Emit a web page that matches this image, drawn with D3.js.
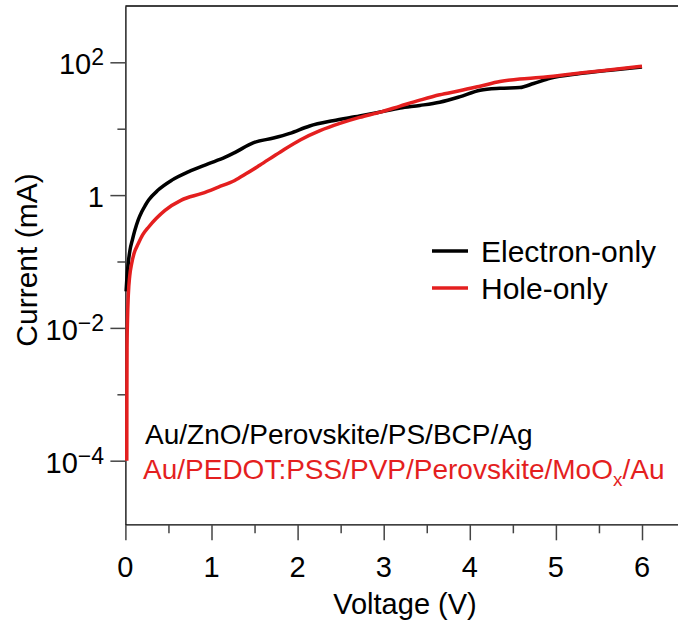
<!DOCTYPE html>
<html>
<head>
<meta charset="utf-8">
<script src="https://cdn.jsdelivr.net/npm/d3@7"></script>
<style>
  html, body { margin: 0; padding: 0; background: #fff; }
  svg { display: block; }
  text { font-family: "Liberation Sans", Arial, Helvetica, sans-serif; }
</style>
</head>
<body>
<svg id="chart" width="678" height="626"></svg>
<script>
// ---- Data ----
const electronV = [0.008, 0.015, 0.022, 0.035, 0.053, 0.08, 0.11, 0.15, 0.19, 0.23, 0.27, 0.38, 0.54, 0.73, 0.96, 1.16, 1.27, 1.49, 1.72, 1.91, 2.14, 2.41, 2.72, 2.96, 3.19, 3.42, 3.65, 3.88, 4.12, 4.35, 4.58, 4.74, 4.93, 5.28, 5.63, 6.0];
const electronI = [0.0355, 0.0501, 0.0661, 0.1, 0.148, 0.209, 0.295, 0.427, 0.562, 0.697, 0.841, 1.19, 1.68, 2.24, 2.95, 3.72, 4.37, 6.17, 7.24, 8.51, 11.0, 13.2, 15.5, 17.8, 20.4, 22.4, 25.1, 30.2, 38.0, 40.7, 41.7, 47.9, 57.5, 67.6, 75.9, 85.1];

const holeV = [0.016, 0.017, 0.019, 0.024, 0.034, 0.05, 0.073, 0.1, 0.15, 0.2, 0.27, 0.36, 0.46, 0.65, 0.89, 1.08, 1.27, 1.40, 1.56, 1.80, 2.03, 2.26, 2.49, 2.72, 2.96, 3.19, 3.42, 3.65, 3.88, 4.12, 4.35, 4.58, 4.81, 5.16, 5.51, 6.0];
const holeI = [0.0001, 0.001, 0.00501, 0.0126, 0.0316, 0.0603, 0.0933, 0.132, 0.186, 0.251, 0.331, 0.447, 0.589, 0.841, 1.06, 1.32, 1.66, 2.09, 2.82, 4.47, 6.76, 9.33, 12.0, 14.8, 17.8, 21.9, 26.9, 32.4, 37.2, 43.7, 51.3, 56.2, 58.9, 66.1, 74.1, 87.1];

const xMajorTicks = [0, 1, 2, 3, 4, 5, 6];
const xMinorTicks = [0.5, 1.5, 2.5, 3.5, 4.5, 5.5];
const yMajorTicks = [1e2, 1, 1e-2, 1e-4];
const yMajorLabels = [["10", "2"], ["1", ""], ["10", "\u22122"], ["10", "\u22124"]];
const yMinorTicks = [1e1, 1e-1, 1e-3];

const seriesNames = ["Electron-only", "Hole-only"];
const seriesColors = ["#000000", "#e41f1f"];
const deviceLabels = ["Au/ZnO/Perovskite/PS/BCP/Ag", "Au/PEDOT:PSS/PVP/Perovskite/MoO"];

// ---- Layout ----
const svg = d3.select("#chart");
const mLeft = 125.4, mTop = 6, mBottom = 524.3, mRight = 680;
const fs = 29;

const x = d3.scaleLinear().domain([0, (mRight - mLeft) / 86.1]).range([mLeft, mRight]);
const y = d3.scaleLog().domain([Math.pow(10, -4.958), Math.pow(10, 2.848)]).range([mBottom, mTop]);

// top spine
svg.append("line").attr("x1", mLeft).attr("x2", mRight).attr("y1", mTop).attr("y2", mTop)
  .attr("stroke", "#000").attr("stroke-width", 1.3);

// x axis
const xAxisG = svg.append("g").attr("transform", `translate(0,${mBottom})`);
xAxisG.call(d3.axisBottom(x).tickValues(xMajorTicks).tickSize(16).tickSizeOuter(0).tickFormat(""));
xAxisG.append("g").call(d3.axisBottom(x).tickValues(xMinorTicks).tickSize(9).tickSizeOuter(0).tickFormat(""))
  .select(".domain").remove();
xAxisG.selectAll(".domain").attr("stroke", "#000").attr("stroke-width", 1.3);
xAxisG.selectAll(".tick line").attr("stroke", "#444").attr("stroke-width", 1.5);

xMajorTicks.forEach(v => {
  svg.append("text").attr("x", x(v)).attr("y", 577).attr("text-anchor", "middle")
    .attr("font-size", fs).attr("fill", "#000").text(d3.format("d")(v));
});

// y axis
const yAxisG = svg.append("g").attr("transform", `translate(${mLeft},0)`);
yAxisG.call(d3.axisLeft(y).tickValues(yMajorTicks).tickSize(15).tickSizeOuter(0).tickFormat(""));
yAxisG.append("g").call(d3.axisLeft(y).tickValues(yMinorTicks).tickSize(8).tickSizeOuter(0).tickFormat(""))
  .select(".domain").remove();
yAxisG.selectAll(".domain").attr("stroke", "#000").attr("stroke-width", 1.3);
yAxisG.selectAll(".tick line").attr("stroke", "#444").attr("stroke-width", 1.5);

yMajorTicks.forEach((v, i) => {
  const t = svg.append("text")
    .attr("x", 104).attr("y", y(v) + 12)
    .attr("text-anchor", "end").attr("font-size", fs).attr("fill", "#000");
  t.append("tspan").text(yMajorLabels[i][0]);
  if (yMajorLabels[i][1]) {
    t.append("tspan").attr("font-size", 23).attr("dy", -9).text(yMajorLabels[i][1]);
  }
});

// axis titles
svg.append("text").attr("x", 405).attr("y", 614).attr("text-anchor", "middle")
  .attr("font-size", fs).attr("fill", "#000").text("Voltage (V)");
svg.append("text").attr("transform", "translate(37,260) rotate(-90)").attr("text-anchor", "middle")
  .attr("font-size", 30).attr("fill", "#000").text("Current (mA)");

// curves
const line = d3.line().x(d => x(d[0])).y(d => y(d[1])).curve(d3.curveMonotoneX);
const eData = electronV.map((v, i) => [v, electronI[i]]);
const hData = holeV.map((v, i) => [v, holeI[i]]);
svg.append("path").datum(eData).attr("d", line).attr("fill", "none")
  .attr("stroke", seriesColors[0]).attr("stroke-width", 3.5).attr("stroke-linejoin", "round");
svg.append("path").datum(hData).attr("d", line).attr("fill", "none")
  .attr("stroke", seriesColors[1]).attr("stroke-width", 3.5).attr("stroke-linejoin", "round");

// legend
seriesNames.forEach((name, i) => {
  const yy = 251 + i * 37;
  svg.append("line").attr("x1", 432).attr("x2", 468).attr("y1", yy).attr("y2", yy)
    .attr("stroke", seriesColors[i]).attr("stroke-width", 3.5);
  svg.append("text").attr("x", 481).attr("y", yy + 11).attr("font-size", 30).attr("fill", "#000").text(name);
});

// device labels
svg.append("text").attr("x", 145).attr("y", 444).attr("font-size", 28).attr("fill", "#000").text(deviceLabels[0]);
const dl = svg.append("text").attr("x", 143).attr("y", 479).attr("font-size", 28).attr("fill", seriesColors[1]);
dl.append("tspan").text(deviceLabels[1]);
dl.append("tspan").attr("font-size", 19).attr("dy", 7).text("x");
dl.append("tspan").attr("dy", -7).text("/Au");
</script>
</body>
</html>
